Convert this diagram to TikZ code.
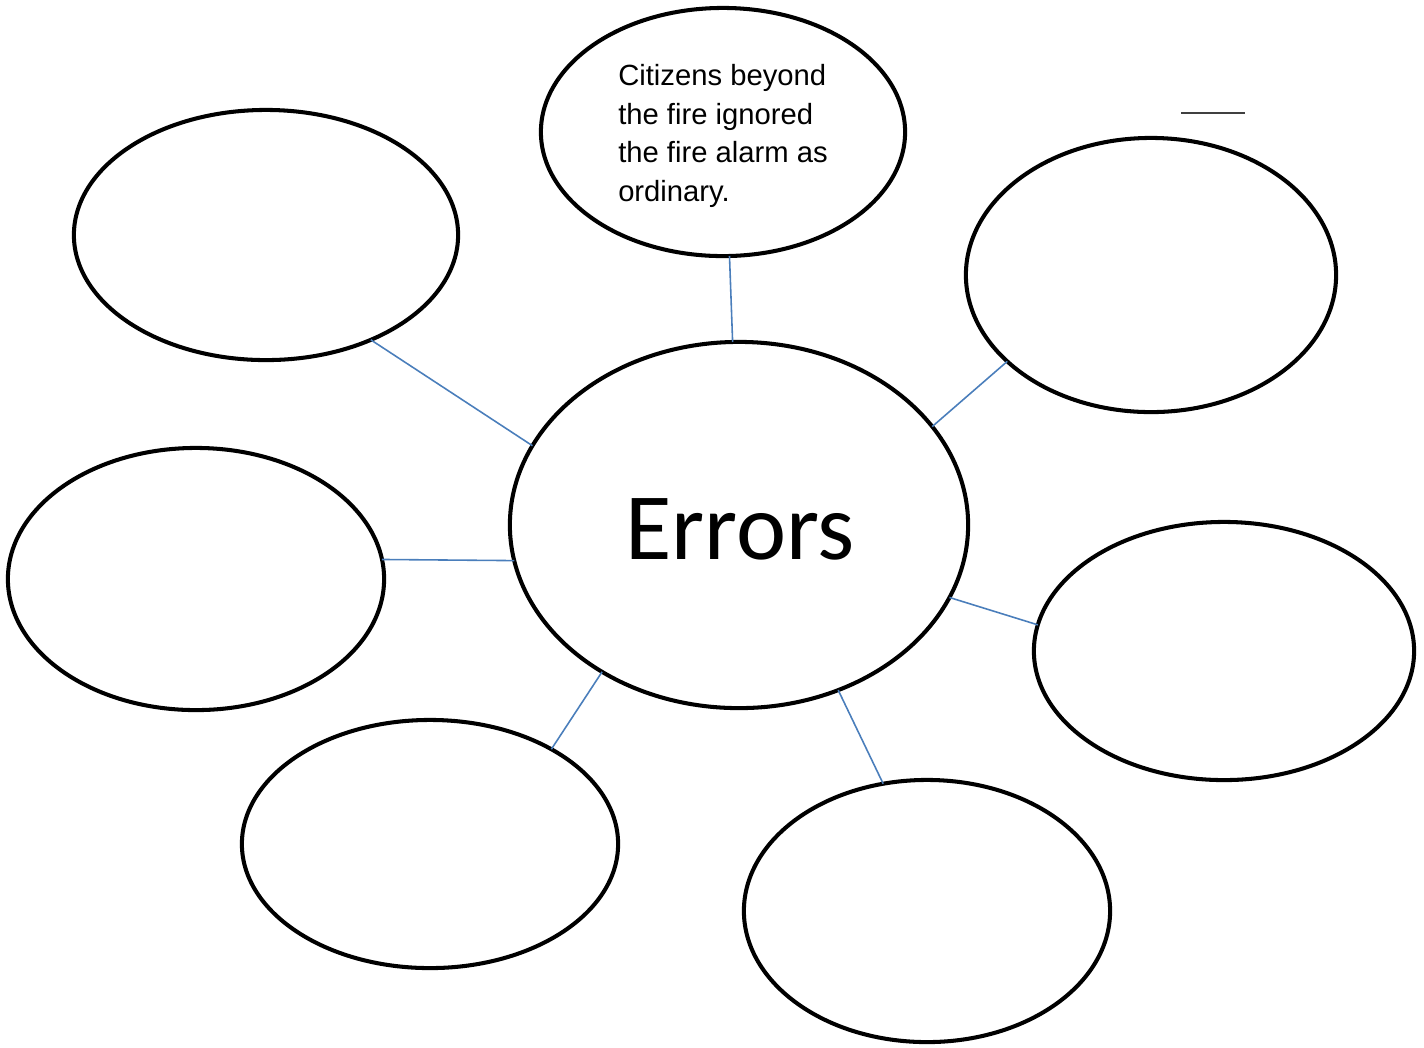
\documentclass[tikz,border=0pt]{standalone}
\usepackage{fontspec}
\setmainfont{Liberation Sans}
\newfontfamily\errfont{Carlito}
\usetikzlibrary{shapes.geometric}
\definecolor{linkblue}{HTML}{4A7EBB}
\definecolor{rulegray}{HTML}{404040}
\tikzset{
  bubble/.style={ellipse, draw=black, line width=1.15pt, inner sep=0pt, outer sep=0pt, fill=white},
  link/.style={draw=linkblue, line width=0.45pt},
  plain/.style={inner sep=0pt, outer sep=0pt},
}
\begin{document}
\begin{tikzpicture}[x=0.01cm, y=-0.01cm]
\useasboundingbox (0,0) rectangle (1424,1047);
% ellipses
\node[bubble, minimum width=3.64cm, minimum height=2.48cm] (top) at (723,132) {};
\node[bubble, minimum width=3.84cm, minimum height=2.50cm] (tl) at (266,235) {};
\node[bubble, minimum width=3.70cm, minimum height=2.74cm] (tr) at (1151,275) {};
\node[bubble, minimum width=4.58cm, minimum height=3.66cm] (c) at (739,525) {};
\node[bubble, minimum width=3.76cm, minimum height=2.62cm] (l) at (196,579) {};
\node[bubble, minimum width=3.80cm, minimum height=2.58cm] (r) at (1224,651) {};
\node[bubble, minimum width=3.76cm, minimum height=2.48cm] (bl) at (430,844) {};
\node[bubble, minimum width=3.66cm, minimum height=2.62cm] (br) at (927,911) {};
% texts
\node[plain, align=left, font=\fontsize{8.31}{10.95}\selectfont] (toptext) at (723,136)
  {Citizens beyond\\the fire ignored\\the fire alarm as\\ordinary.};
\node[plain, font=\errfont\fontsize{27.0}{32}\selectfont] (errtext) at (740,529) {Errors};
% connectors
\draw[link] (top.-87.2) -- (c.92.5);
\draw[link] (tl.-45.8) -- (c.159.0);
\draw[link] (tr.-149.4) -- (c.27.6);
\draw[link] (l.6.0) -- (c.-171.4);
\draw[link] (c.-19.0) -- (r.172.3);
\draw[link] (c.-133.4) -- (bl.38.1);
\draw[link] (c.-59.5) -- (br.109.6);
% small stray rule at top right
\coordinate (ruleA) at (1181,113);
\coordinate (ruleB) at (1245,113);
\draw[rulegray, line width=0.6pt] (ruleA) -- (ruleB);
\end{tikzpicture}
\end{document}
